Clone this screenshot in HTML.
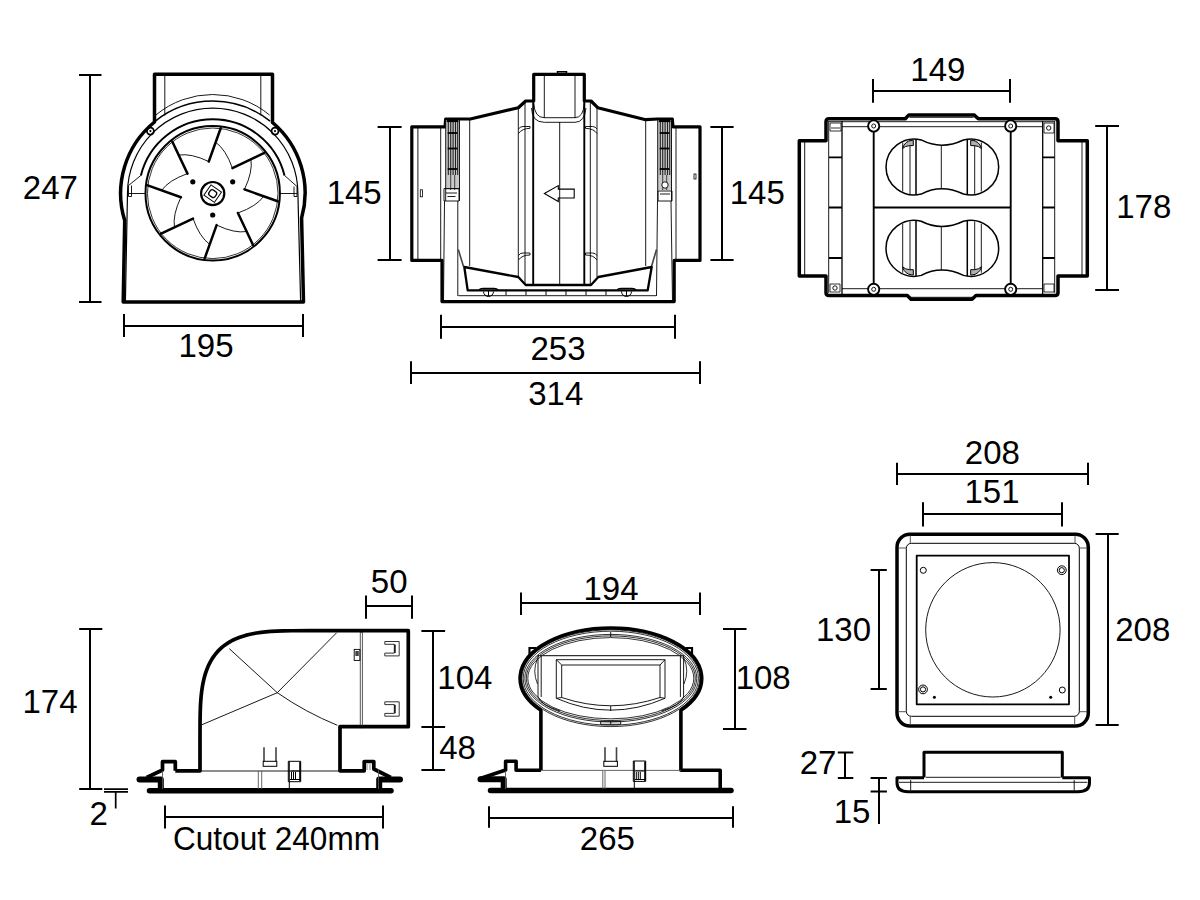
<!DOCTYPE html>
<html><head><meta charset="utf-8"><style>
html,body{margin:0;padding:0;background:#fff;}
svg{display:block;}
</style></head><body>
<svg width="1200" height="900" viewBox="0 0 1200 900">
<rect width="1200" height="900" fill="#fff"/>
<g fill="none" stroke="#000" stroke-width="2.0"><path d="M90 75V302M79 75H101.5M79 302H101.5"/><path d="M124 326H303M124 314V337M303 314V337"/><path d="M390 127V260M377.6 127H401.6M377.6 260H401.6"/><path d="M722 127V260M710.4 127H733.6M710.4 260H733.6"/><path d="M441 327H675M441 314.7V338.7M675 314.7V338.7"/><path d="M411 373H700M411 361.3V384M700 361.3V384"/><path d="M873 91H1010M873 79V102.7M1010 79V102.7"/><path d="M1107 126V290M1095.2 126H1119M1095.2 290H1119"/><path d="M90 629V789M79.2 629H102.3M79.2 789H102.3"/><path d="M104 789.1H128M104 791.9H128M115.7 791.9V808.5" stroke-width="1.7"/><path d="M366 606H412M366 595.5V618.7M412 595.5V618.7"/><path d="M433 631V770M421.4 631H445.1M421.4 727H445.1M421.4 770H445.1"/><path d="M165 817H383M165 805.6V828.5M383 805.6V828.5"/><path d="M521 603H700M521 592.6V615.1M700 592.6V615.1"/><path d="M735 629V729M723 629H746.5M723 729H746.5"/><path d="M489 818H733M489 806.2V827.8M733 806.2V827.8"/><path d="M897 474H1088M897 462.7V485.1M1088 462.7V485.1"/><path d="M923 514H1062M923 502.3V526.4M1062 502.3V526.4"/><path d="M879 570V689M870.6 570H886.8M870.6 689H886.8"/><path d="M1108 534V725M1095.6 534H1118.7M1095.6 725H1118.7"/><path d="M845 752.6V778M837.8 752.6H853.3M837.8 778H853.3"/><path d="M879 778V824.1M870.6 778H886.9M870.6 791.6H886.9"/></g><g font-family="Liberation Sans, sans-serif" font-size="33" fill="#000" text-anchor="middle"><text x="50.4" y="199.2">247</text><text x="206" y="357.2">195</text><text x="354.2" y="204.1">145</text><text x="757.3" y="204.1">145</text><text x="558" y="360.2">253</text><text x="555.8" y="405.1">314</text><text x="937.9" y="80.5">149</text><text x="1143.8" y="217.7">178</text><text x="50" y="712.7">174</text><text x="98.7" y="824.9">2</text><text x="389.2" y="593">50</text><text x="464.9" y="689.1">104</text><text x="457.6" y="759.3">48</text><text x="276.5" y="850.4" textLength="207" lengthAdjust="spacingAndGlyphs">Cutout 240mm</text><text x="611" y="599.6">194</text><text x="763.2" y="688.6">108</text><text x="607.4" y="849.7">265</text><text x="992.4" y="464.4">208</text><text x="992" y="502.8">151</text><text x="843.5" y="640.8">130</text><text x="1142.8" y="640.8">208</text><text x="818" y="773.8">27</text><text x="852" y="823.2">15</text></g><g fill="none" stroke="#000"><path d="M154.5 122V74.3H272.5V122.5A92.2 92.2 0 0 1 301.6 218L303.5 302H123.2L124.7 220.5A92.2 92.2 0 0 1 154.5 122Z" stroke-width="3.5" stroke-linejoin="round"/><path d="M164.8 74V115.5M260.8 74V115.5" stroke-width="0.9"/><path d="M155.86 115.01A89 89 0 0 1 269.54 115.01" stroke-width="0.9"/><path d="M155.30 121.14A92.2 92.2 0 0 1 270.10 121.14" stroke-width="1.5"/><path d="M127.50 193.30A85.2 85.2 0 0 1 297.90 193.30L300.6 301M127.5 193.3L125.4 301" stroke-width="1.2"/><path d="M140.90 175.40A74 74 0 0 1 284.50 175.40" stroke-width="2.0"/><path d="M140.90 175.40L128.5 185.5V196.5H131.5V185.5M128.5 193.5H145.5M284.50 175.40L297 186.5V196.5H294V186.5M297 193.5H280" stroke-width="0.9"/><circle cx="150.4" cy="131.1" r="3.5" stroke-width="1.8"/><circle cx="150.4" cy="131.1" r="1.1" fill="#000" stroke="none"/><circle cx="275.0" cy="131.1" r="3.5" stroke-width="1.8"/><circle cx="275.0" cy="131.1" r="1.1" fill="#000" stroke="none"/><circle cx="212.7" cy="193.3" r="67.2" stroke-width="2"/><circle cx="212.7" cy="193.3" r="65.3" stroke-width="0.8"/><path d="M220.68 128.29L208.80 161.54M264.31 152.97L232.40 168.08M277.71 201.28L244.46 189.40M253.03 244.91L237.92 213.00M204.72 258.31L216.60 225.06M161.09 233.63L193.00 218.52M147.69 185.32L180.94 197.20M172.37 141.69L187.48 173.60" stroke-width="2.5" stroke-linecap="round"/><path d="M208.80 161.54Q190.90 153.04 178.72 155.09M232.40 168.08Q225.76 149.42 215.69 142.25M244.46 189.40Q252.96 171.50 250.91 159.32M237.92 213.00Q256.58 206.36 263.75 196.29M216.60 225.06Q234.50 233.56 246.68 231.51M193.00 218.52Q199.64 237.18 209.71 244.35M180.94 197.20Q172.44 215.10 174.49 227.28M187.48 173.60Q168.82 180.24 161.65 190.31" stroke-width="0.9"/><circle cx="212.7" cy="193.6" r="11.6" stroke-width="2.2"/><g transform="translate(212.7 193.6) rotate(35)"><rect x="-6.4" y="-6.2" width="12.8" height="12.4" stroke-width="1"/><rect x="-3.6" y="-3.3" width="7.2" height="6.6" rx="2.2" stroke-width="1.3"/></g><circle cx="192.8" cy="181.8" r="2.6" fill="#000" stroke="none"/><circle cx="232.7" cy="181.8" r="2.6" fill="#000" stroke="none"/><circle cx="212.7" cy="215" r="2.6" fill="#000" stroke="none"/></g><g fill="none" stroke="#000"><path d="M411.8 126.8V260.4H442V301.6H674.2V260.4H700V126.8H673L672.3 119H657.7L645.7 119.7L597.7 107.7L591 101H584.3V74.3H533.7V101H525.7L518.3 107.7L470.3 119H445.7L445 126.8Z" stroke-width="3.2" stroke-linejoin="round"/><path d="M557.5 73.5V71.8H566.5V73.5" stroke-width="1.5"/><path d="M417.9 127V260M440.7 127V260M676 127V260" stroke-width="0.9"/><rect x="445.7" y="120" width="13.8" height="70" fill="#c8c8c8" stroke="none"/><path d="M445.7 120V201M459.5 120V201" stroke-width="0.9"/><path d="M448.3 121V175M450.7 121V175M453.09999999999997 121V175M455.5 121V175M457.7 121V175" stroke-width="1.1" stroke="#222"/><path d="M450.7 175V190M454.7 175V190" stroke-width="0.9" stroke="#333"/><path d="M446.7 121H458.5" stroke-width="2.2"/><path d="M447.7 133H457.5" stroke-width="1.8"/><path d="M447.7 148.5H457.5" stroke-width="1.8"/><path d="M447.7 169H457.5" stroke-width="1.8"/><rect x="657.7" y="120" width="13.8" height="70" fill="#c8c8c8" stroke="none"/><path d="M657.7 120V201M671.5 120V201" stroke-width="0.9"/><path d="M660.3000000000001 121V175M662.7 121V175M665.1 121V175M667.5 121V175M669.7 121V175" stroke-width="1.1" stroke="#222"/><path d="M662.7 175V190M666.7 175V190" stroke-width="0.9" stroke="#333"/><path d="M658.7 121H670.5" stroke-width="2.2"/><path d="M659.7 133H669.5" stroke-width="1.8"/><path d="M659.7 148.5H669.5" stroke-width="1.8"/><path d="M659.7 169H669.5" stroke-width="1.8"/><path d="M444 188.5H459V201H444ZM446 193H457M447.5 196.5H455.5" stroke-width="0.9"/><path d="M658 191H672V201H658ZM660 194H670" stroke-width="0.9"/><circle cx="665" cy="185" r="3.2" fill="#fff" stroke-width="0.9"/><path d="M444.5 201L443.5 301M457.8 201V296M671 201L672.5 301M657.5 201L656.5 296" stroke-width="0.9"/><path d="M458.3 249.5L463.5 266.5M656.5 249.5L651.5 266.5" stroke-width="1.6" stroke="#444"/><path d="M469.7 119.5V266M645.7 120V266M518.3 108V277M525 101V285M590.3 101V285M597 108V277M544.3 74.5V118M575 74.5V118M559.7 122V285" stroke-width="0.9"/><path d="M533.2 101V285M584.3 101V285" stroke-width="1.9"/><path d="M533.7 103Q534.5 117.7 544.3 117.7H575Q583.5 117.7 584.3 103M531.5 108Q532 122.3 544.3 122.3H575Q584.5 122.3 586 108" stroke-width="0.9"/><path d="M518.5 133.5Q522 128.5 530 128.3V126.5H523Q520 126.5 518.5 129M518.5 260Q522 255 530 255V253H523Q520 253 518.5 255.5M597 133.5Q593.5 128.5 585.5 128.3V126.5H592.5Q595.5 126.5 597 129M597 260Q593.5 255 585.5 255V253H592.5Q595.5 253 597 255.5" stroke-width="0.9"/><path d="M544.4 193.4L558.3 185.6V189.1H574.2V198H558.3V201.5Z" stroke-width="1.1"/><path d="M464.3 267L467.7 290.3H647.7L651.7 267L598.3 277L591 285H525.7L518.3 277Z" stroke-width="2.3" stroke-linejoin="round"/><path d="M458.3 295.7H656" stroke-width="0.9"/><path d="M483.5 291.5A5 5 0 0 0 493.5 291.5M488.5 291V296M621.5 291.5A5 5 0 0 0 631.5 291.5M626.5 291V296M506 291V295M526 291V295M546 291V295M566 291V295M586 291V295M606 291V295" stroke-width="1"/><path d="M479 290Q480 288.5 483 288.5H494Q497 288.5 498 290M617 290Q618 288.5 621 288.5H632Q635 288.5 636 290" stroke-width="1.4"/><rect x="420.3" y="189.8" width="2.2" height="7" stroke-width="0.8"/><rect x="694" y="174" width="2" height="5" stroke-width="0.8"/></g><g fill="none" stroke="#000"><path d="M799.3 140.7H826V121.7Q826 118.7 829 118.7H905.3L908.9 114.9H974L978.3 118.7H1055Q1058 118.7 1058 121.7V140.7H1087.3V276H1058V292.5Q1058 295.5 1055 295.5H976L972 299.3H911L907.3 295.5H829Q826 295.5 826 292.5V276H799.3Z" stroke-width="3.5" stroke-linejoin="round"/><path d="M804.7 142V275M1082 142V275M909.5 117.3H973.5M910 297.3H972.5M828.7 121.7H1055M842 126.7H1042.7M842 288.7H1042.7M828.7 121V293M1054.7 121V293" stroke-width="0.9"/><path d="M842 121V294M1042.7 121V294" stroke-width="1.3"/><path d="M829 157.3H842M1042.7 157.3H1054.7M829 207.5H842M1042.7 207.5H1054.7M829 258H842M1042.7 258H1054.7" stroke-width="1.8"/><path d="M873.7 126V289.3M1010.7 126V289.3M873.7 207.5H1010.7" stroke-width="1.9"/><circle cx="873.7" cy="126" r="5.6" fill="#fff" stroke-width="1.9"/><circle cx="873.7" cy="126" r="2" stroke-width="0.9"/><circle cx="1010.7" cy="126" r="5.6" fill="#fff" stroke-width="1.9"/><circle cx="1010.7" cy="126" r="2" stroke-width="0.9"/><circle cx="873.7" cy="289.3" r="5.6" fill="#fff" stroke-width="1.9"/><circle cx="873.7" cy="289.3" r="2" stroke-width="0.9"/><circle cx="1010.7" cy="289.3" r="5.6" fill="#fff" stroke-width="1.9"/><circle cx="1010.7" cy="289.3" r="2" stroke-width="0.9"/><path d="M830 123H841V131H830ZM831 128H840M1044 123H1054V133H1044ZM830 284H840V292H830ZM1044 284H1054V292H1044Z" stroke-width="0.8"/><circle cx="1048.7" cy="128" r="2.2" stroke-width="0.9"/><circle cx="835" cy="288" r="2.2" stroke-width="0.9"/><path d="M921.25 139.95A28 28 0 1 0 921.25 194.05Q941.3 183.55 963.45 194.05A28 28 0 1 0 963.45 139.95Q941.3 150.45 921.25 139.95Z" stroke-width="1.5"/><path d="M902.7 142.5V191.5M910 140V194M974.7 140V194M981.3 142.5V191.5M941.3 145.4V188.6" stroke-width="0.9"/><path d="M916 139V195M967.3 139V195" stroke-width="1.5"/><path d="M921.25 221.25A28 28 0 1 0 921.25 275.35Q941.3 264.85 963.45 275.35A28 28 0 1 0 963.45 221.25Q941.3 231.75 921.25 221.25Z" stroke-width="1.5"/><path d="M902.7 223.8V272.8M910 221.3V275.3M974.7 221.3V275.3M981.3 223.8V272.8M941.3 226.70000000000002V269.90000000000003" stroke-width="0.9"/><path d="M916 220.3V276.3M967.3 220.3V276.3" stroke-width="1.5"/><path transform="translate(942 167) scale(1 1)" d="M-39.4 -19Q-37 -26 -30 -26.7H-28.7V-21.4H-32.3Q-37 -21 -39.4 -18.5Z" fill="#b0b0b0" stroke-width="1"/><path transform="translate(942 167) scale(-1 1)" d="M-39.4 -19Q-37 -26 -30 -26.7H-28.7V-21.4H-32.3Q-37 -21 -39.4 -18.5Z" fill="#b0b0b0" stroke-width="1"/><path transform="translate(942 248.3) scale(1 -1)" d="M-39.4 -19Q-37 -26 -30 -26.7H-28.7V-21.4H-32.3Q-37 -21 -39.4 -18.5Z" fill="#b0b0b0" stroke-width="1"/><path transform="translate(942 248.3) scale(-1 -1)" d="M-39.4 -19Q-37 -26 -30 -26.7H-28.7V-21.4H-32.3Q-37 -21 -39.4 -18.5Z" fill="#b0b0b0" stroke-width="1"/></g><g fill="none" stroke="#000"><path d="M175.3 770.8H200V740L200.00 740.00L200.05 721.91L200.19 713.42L200.42 706.73L200.75 701.00L201.18 695.91L201.70 691.29L202.31 687.03L203.02 683.08L203.83 679.38L204.73 675.90L205.73 672.62L206.83 669.52L208.03 666.58L209.32 663.79L210.72 661.15L212.22 658.64L213.82 656.26L215.53 654.00L217.34 651.87L219.27 649.84L221.30 647.93L223.45 646.13L225.72 644.43L228.12 642.84L230.64 641.35L233.30 639.96L236.11 638.68L239.06 637.49L242.19 636.40L245.49 635.40L248.99 634.51L252.71 633.71L256.70 633.00L260.98 632.39L265.63 631.87L270.75 631.45L276.52 631.12L283.25 630.89L291.79 630.75L310.00 630.70H408.3V726.7H340V770.8H364.2V761.5H373.8V769L390.8 777.5" stroke-width="3.7" stroke-linejoin="round"/><path d="M175.3 770.8V761.7H162.5V770L146.7 777.5" stroke-width="3.7" stroke-linejoin="round"/><path d="M139.5 779.5H160.8V790M400 779.5H379.2V790" stroke-width="6" stroke-linecap="round" stroke-linejoin="round"/><path d="M149.5 790.7H391" stroke-width="5.5" stroke-linecap="round"/><path d="M200 771H340M229.3 648.7L277.3 692.7Q305 712 337.3 725.3M202 724.7L277.3 692.7L336.7 632.7" stroke-width="0.9"/><path d="M258.3 771V789M261.7 771V789M162.5 771V789M378.5 769V789" stroke-width="0.9" stroke="#555"/><path d="M360.3 631V726.5M362.4 631V726.5" stroke-width="0.9" stroke="#444"/><circle cx="361.4" cy="631" r="1.6" fill="#000" stroke="none"/><circle cx="361.4" cy="726.6" r="1.6" fill="#000" stroke="none"/><path d="M384.8 641.5H399.2V655.9H384.8V653.1H394.3V644.3H384.8ZM384.8 701.8H399.2V716.1999999999999H384.8V713.4H394.3V704.5999999999999H384.8Z" stroke-width="1" stroke="#333"/><path d="M395 644.5V653M395 704.8V713.3" stroke-width="1.3"/><rect x="354.2" y="649.4" width="5.7" height="11" stroke-width="0.9"/><rect x="355.3" y="651" width="3.5" height="5" fill="#444" stroke="none"/><path d="M264 747.3V761.5M276 747.3V761.5" stroke-width="1.6" stroke="#444"/><rect x="263.2" y="761.3" width="13.6" height="5" stroke-width="1"/><path d="M288.3 761.3H300.7V781.7H288.3ZM289.3 761.3V789M290.5 771H299M291.5 772V779M293.5 772V779M295.5 772V779M290 779.5H300" stroke-width="1"/><path d="M300 762V781" stroke-width="1.6"/><path d="M367 764V770M370 764V770" stroke-width="0.8" stroke="#666"/></g><g fill="none" stroke="#000"><path d="M540.9 770.2V710.24A90.8 50.2 0 1 1 680.9 710.24V770.2H720.2V789.4" stroke-width="3.6" stroke-linejoin="round"/><path d="M540.9 770.2H516.1V761.2H505.6V770L479.5 778.8" stroke-width="3.6" stroke-linejoin="round"/><path d="M480.5 779.3H503.7V790" stroke-width="6" stroke-linecap="round" stroke-linejoin="round"/><path d="M490.5 790.6H731" stroke-width="5.5" stroke-linecap="round"/><path d="M521.80 678.20A89 48.4 0 1 1 699.80 678.20A89 48.4 0 1 1 521.80 678.20ZM523.20 678.20A87.6 47 0 1 1 698.40 678.20A87.6 47 0 1 1 523.20 678.20Z" stroke-width="0.8"/><path d="M524.80 678.20A86 43.8 0 1 1 696.80 678.20A86 43.8 0 1 1 524.80 678.20ZM526.30 678.20A84.5 42.3 0 1 1 695.30 678.20A84.5 42.3 0 1 1 526.30 678.20ZM527.80 678.20A83 40.6 0 1 1 693.80 678.20A83 40.6 0 1 1 527.80 678.20Z" stroke-width="0.8"/><path d="M529.5 655V648H536M692 655V648H685.5" stroke-width="2.2"/><path d="M537.8 655.6H683.8" stroke-width="1.3" stroke="#333"/><path d="M538 655.6V697Q541 705 560 711M541.2 655.6V697M683.6 655.6V697Q680.6 705 661.6 711M680.4 655.6V697" stroke-width="0.9"/><path d="M537.5 658.4Q532 671.2 537.5 684M684 658.4Q689.5 671.2 684 684" stroke-width="0.8"/><path d="M556.3 659.7H665V698.3Q610.7 722 556.3 698.3ZM561.7 665H660V697.5Q610.7 714 561.7 697.5ZM556.3 659.7L561.7 665M665 659.7L660 665M556.3 698.3L561.7 697.5M665 698.3L660 697.5M610.7 706V711M610.7 632V637" stroke-width="0.9"/><path d="M600.7 721.3H620.7V724.3H600.7ZM610.7 721.3V724.3" stroke-width="0.9"/><path d="M540.9 770.4H681" stroke-width="0.9" stroke="#555"/><path d="M602.8 771V789M605 771V789M505.5 771V789" stroke-width="0.9" stroke="#555"/><path d="M605 747.3V761.5M616.5 747.3V761.5" stroke-width="1.6" stroke="#444"/><rect x="603.8" y="761.3" width="13.6" height="5" stroke-width="1"/><path d="M633.3 761H645.6999999999999V781.4H633.3ZM634.3 761V789M635.3 771H644.3M636.3 772V779M638.3 772V779M640.3 772V779M634.8 779.5H645.3" stroke-width="1"/><path d="M645.0 761.5V781" stroke-width="1.6"/></g><g fill="none" stroke="#000"><rect x="897" y="534.3" width="191.3" height="191.7" rx="13" stroke-width="3.5"/><rect x="906.3" y="543.3" width="173" height="173" rx="5" stroke-width="1"/><path d="M910.3 535.5V543.3M898.2 548H906.3M1075 535.5V543.3M1087.2 548H1079.3M910.3 716.3V724.8M898.2 711.7H906.3M1074.7 716.3V724.8M1087.2 711.7H1079.3" stroke-width="0.9" stroke="#444"/><path d="M916.7 555.7H1069V704.3H916.7Z" stroke-width="1.8" stroke-linejoin="round"/><circle cx="992.9" cy="629.8" r="67.2" stroke-width="0.9"/><circle cx="923.3" cy="570.3" r="3" stroke-width="1"/><circle cx="1062.3" cy="690" r="3" stroke-width="1"/><circle cx="1061.8" cy="570.2" r="4.4" stroke-width="1"/><circle cx="1061.8" cy="570.2" r="2.6" stroke-width="1"/><circle cx="923" cy="689.4" r="4.4" stroke-width="1"/><circle cx="923" cy="689.4" r="2.6" stroke-width="1"/><circle cx="934.4" cy="697.2" r="1.5" fill="#000" stroke="none"/><circle cx="1050.7" cy="697.3" r="1.5" fill="#000" stroke="none"/><path d="M924 777.5V752.3H1062.3V777.5M924 777.7H897V782.7Q897 791.7 908 791.7H1078Q1089.5 791.7 1089.5 782.7V777.7H1062.3" stroke-width="3" stroke-linejoin="round"/><path d="M926 777.3H1060.5M899 782.3H1087.5M910.7 780V790.5M1074.2 780V790.5" stroke-width="0.9"/></g>
</svg>
</body></html>
